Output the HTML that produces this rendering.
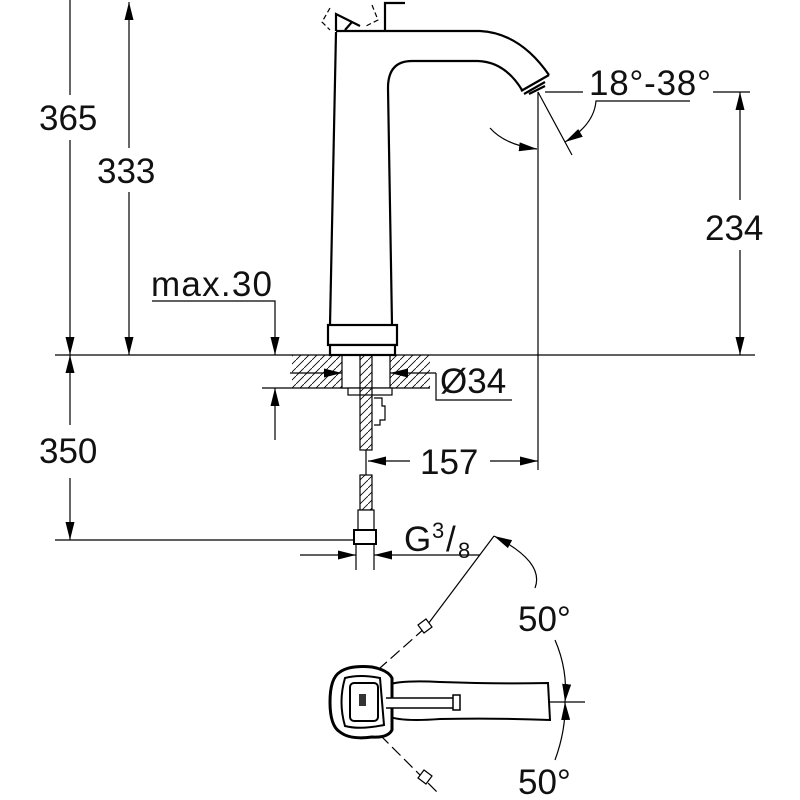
<!DOCTYPE html>
<html><head><meta charset="utf-8"><style>html,body{margin:0;padding:0;background:#fff}svg{display:block}text{font-family:"Liberation Sans",sans-serif;fill:#111}</style></head>
<body>
<svg width="800" height="800" viewBox="0 0 800 800" xmlns="http://www.w3.org/2000/svg">
<defs>
<marker id="a" viewBox="0 0 20 10" refX="20" refY="5" markerWidth="18" markerHeight="9" markerUnits="userSpaceOnUse" orient="auto-start-reverse"><path d="M0,0 L20,5 L0,10 z" fill="#000"/></marker>
<pattern id="h" width="8" height="8" patternUnits="userSpaceOnUse"><path d="M0,8 L8,0" stroke="#000" stroke-width="0.8"/></pattern>
</defs>
<g stroke="#000" fill="none" stroke-width="1.2">
<line x1="55" y1="355" x2="755" y2="355"/>
<line x1="70" y1="0" x2="70" y2="95"/>
<line x1="70" y1="140" x2="70" y2="355" marker-end="url(#a)"/>
<line x1="129" y1="148" x2="129" y2="2" marker-end="url(#a)"/>
<line x1="129" y1="192" x2="129" y2="355" marker-end="url(#a)"/>
<polyline points="152,301 275,301 275,355" marker-end="url(#a)"/>
<line x1="275" y1="440" x2="275" y2="388" marker-end="url(#a)"/>
<line x1="262" y1="388" x2="292" y2="388"/>
<line x1="70" y1="425" x2="70" y2="355" marker-end="url(#a)"/>
<line x1="70" y1="478" x2="70" y2="540" marker-end="url(#a)"/>
<line x1="55" y1="540" x2="355" y2="540"/>
<rect x="292" y="355" width="138" height="33" fill="url(#h)" stroke="none"/>
<line x1="292" y1="388" x2="430" y2="388"/>
<rect x="342" y="355" width="48" height="33" fill="#fff"/>
<rect x="348" y="388" width="44" height="7" fill="#fff"/>
<line x1="290" y1="373" x2="342" y2="373" marker-end="url(#a)"/>
<line x1="436" y1="373" x2="390" y2="373" marker-end="url(#a)"/>
<polyline points="436,373 436,400 512,400"/>
<rect x="360" y="355" width="12" height="95" fill="url(#h)"/>
<rect x="360" y="475" width="12" height="35" fill="url(#h)"/>
<rect x="358" y="510" width="16" height="20" fill="#fff"/>
<rect x="354" y="530" width="22" height="14" fill="#fff" stroke-width="2"/>
<line x1="356" y1="544" x2="356" y2="570"/><line x1="374" y1="544" x2="374" y2="570"/>
<path d="M374,398 h8 v8 h3 v14 h-5 v5 h-6" />
<line x1="366" y1="450" x2="366" y2="475"/>
<line x1="410" y1="461" x2="368" y2="461" marker-end="url(#a)"/>
<line x1="490" y1="461" x2="538" y2="461" marker-end="url(#a)"/>
<line x1="538" y1="92" x2="538" y2="470"/>
<line x1="300" y1="555" x2="356" y2="555" marker-end="url(#a)"/>
<line x1="480" y1="555" x2="374" y2="555" marker-end="url(#a)"/>
<line x1="545" y1="92" x2="583" y2="92"/>
<line x1="713" y1="92" x2="750" y2="92"/>
<line x1="740" y1="200" x2="740" y2="92" marker-end="url(#a)"/>
<line x1="740" y1="250" x2="740" y2="355" marker-end="url(#a)"/>
<line x1="538" y1="92" x2="572" y2="155"/>
<path d="M690,101 H596 Q594,125 565,142" marker-end="url(#a)"/>
<path d="M490,128 Q505,145 537,149" marker-end="url(#a)"/>
</g>
<g stroke="#000" fill="none" stroke-width="2.2">
<path d="M336,32 L330,325 M388,88 L392,325"/>
<path d="M336,31 H480 Q520,33 549,75"/>
<path d="M388,88 Q388,61 412,61 H478 Q505,62 522,90"/>
<path d="M549,75 L521,91 M545,82 L524,94 M529,94 L545,86"/>
<rect x="328" y="325" width="69" height="20" fill="#fff"/>
<rect x="330" y="345" width="65" height="10" fill="#fff"/>
<path d="M336,31 V14 L360,26 M345,30 L352,22 M385,31 V3 H405"/>
<path d="M330,8 L322,22 L330,30 M372,5 L378,20 L366,26" stroke-dasharray="5,3" stroke-width="1.2"/>
</g>
<g stroke="#000" fill="none" stroke-width="1.2">
<line x1="358" y1="702" x2="585" y2="702"/>
<line x1="494" y1="536" x2="425" y2="628"/>
<path d="M425,628 L380,668" stroke-dasharray="12,5"/>
<path d="M380,735 L440,795" stroke-dasharray="12,5"/>
<path d="M418,625 l8,-6 l6,8 l-8,6z M418,778 l8,6 l6,-8 l-8,-6z" fill="#fff"/>
<path d="M494,536 Q545,562 535,588" marker-start="url(#a)"/>
<path d="M555,640 Q568,670 565,702" marker-end="url(#a)"/>
<path d="M565,702 Q566,730 555,760" marker-start="url(#a)"/>
</g>
<g stroke="#000" fill="#fff" stroke-width="2">
<path d="M388,685 Q400,680 440,682 Q500,684 548,683 L550,720 Q500,718 440,719 Q400,722 388,716z"/>
<path d="M340,672 Q350,665 372,667 Q388,670 392,678 L392,730 Q388,738 372,737 Q350,740 340,732 Q330,726 330,702 Q330,678 340,672z" stroke-width="3"/>
<path d="M345,678 Q360,674 380,678 L384,725 Q360,730 345,726 Q338,702 345,678z"/>
<rect x="350" y="683" width="28" height="38" rx="4"/>
<rect x="359" y="694" width="7" height="12" fill="#333" stroke="none"/>
<path d="M386,698 H455 V708 H386" stroke-width="1.5"/>
<rect x="453" y="695" width="7" height="15" stroke-width="1.5"/>
</g>
<g font-size="35">
<text x="39" y="130">365</text>
<text x="97" y="183">333</text>
<text x="151" y="296" textLength="121">max.30</text>
<text x="39" y="463">350</text>
<text x="440" y="393">Ø34</text>
<text x="420" y="474">157</text>
<text x="404" y="551">G</text>
<text x="432" y="538" font-size="22">3</text>
<text x="446" y="551">/</text>
<text x="458" y="558" font-size="22">8</text>
<text x="589" y="95" textLength="122">18°-38°</text>
<text x="705" y="240">234</text>
<text x="518" y="631">50°</text>
<text x="518" y="794">50°</text>
</g>
</svg>
</body></html>
